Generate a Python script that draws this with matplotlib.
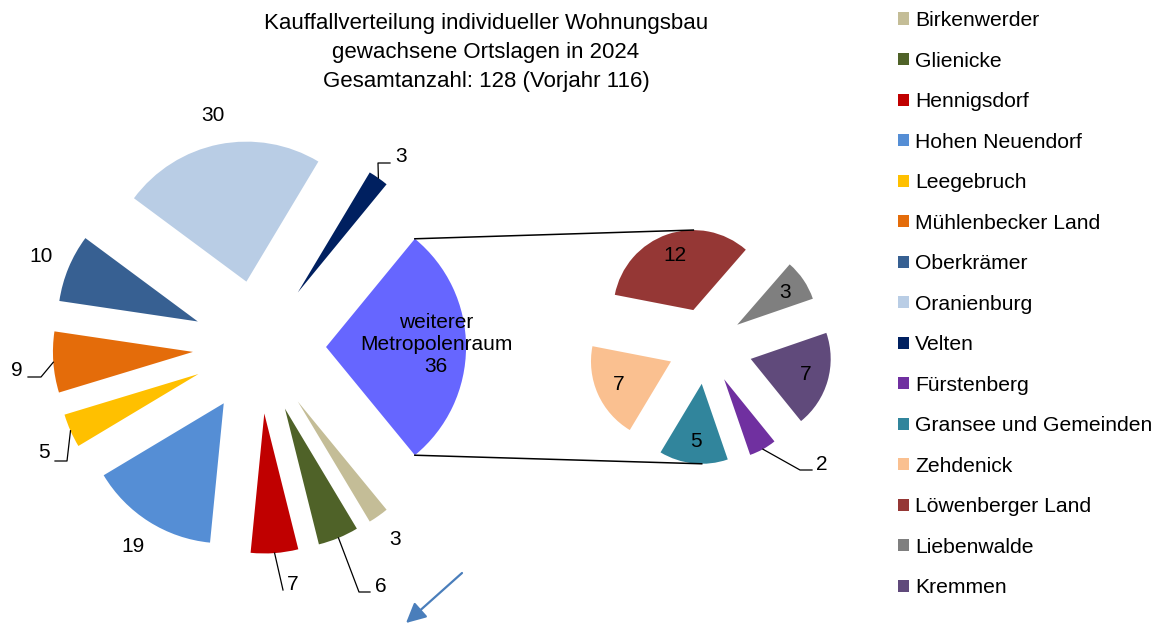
import numpy as np
import matplotlib
matplotlib.use("Agg")
import matplotlib.pyplot as plt

W, H = 1168, 625

title = ("Kauffallverteilung individueller Wohnungsbau\n"
         "gewachsene Ortslagen in 2024\n"
         "Gesamtanzahl: 128 (Vorjahr 116)")

main_labels = ["Birkenwerder", "Glienicke", "Hennigsdorf", "Hohen Neuendorf",
               "Leegebruch", "Mühlenbecker Land", "Oberkrämer", "Oranienburg",
               "Velten"]
main_values = [3, 6, 7, 19, 5, 9, 10, 30, 3]
main_colors = ["#c4bd97", "#4f6228", "#c00000", "#558ed5", "#ffc000",
               "#e46c0a", "#376092", "#b9cde5", "#002060"]

sub_labels = ["Fürstenberg", "Gransee und Gemeinden", "Zehdenick",
              "Löwenberger Land", "Liebenwalde", "Kremmen"]
sub_values = [2, 5, 7, 12, 3, 7]
sub_colors = ["#7030a0", "#31859c", "#fac090", "#953735", "#7f7f7f", "#604a7b"]

rest_label = "weiterer\nMetropolenraum"
rest_color = "#6666ff"
rest_value = sum(sub_values)

# labels that Excel moved out with a leader line: label pos, elbow, line end (pixels from top-left)
moved = {
    "Velten": ((401, 157), (378, 163), (390, 163)),
    "Mühlenbecker Land": ((17, 371), (41, 377), (28, 377)),
    "Leegebruch": ((44, 453), (67, 461), (55, 461)),
    "Hennigsdorf": ((293, 585), (283, 590), (283, 590)),
    "Glienicke": ((381, 586), (359, 592), (370, 592)),
    "Fürstenberg": ((822, 465), (800, 470), (812, 470)),
}

plt.rcParams['font.family'] = ['Liberation Sans', 'DejaVu Sans']
plt.rcParams['font.size'] = 15

fig = plt.figure(figsize=(W / 100, H / 100), dpi=100)
ax = fig.add_axes([0, 0, 1, 1])

r1, r2 = 140, 80
c1 = (259.4, H - 347)
c2 = (705.7, H - 346)
total = rest_value + sum(main_values)

vals1 = [rest_value] + main_values
w1, _ = ax.pie(vals1, colors=[rest_color] + main_colors, radius=r1, center=c1,
               explode=[0.476 * r1] * len(vals1), startangle=180 * rest_value / total,
               counterclock=False, wedgeprops=dict(linewidth=0))

expl2 = [0.475 * r2] * len(sub_values)
expl2[-1] = 0.585 * r2
w2, _ = ax.pie(sub_values, colors=sub_colors, radius=r2, center=c2,
               explode=expl2, startangle=-51, counterclock=False,
               wedgeprops=dict(linewidth=0))

ax.set_xlim(0, W)
ax.set_ylim(0, H)
ax.axis("off")


def at(w, f):
    a = np.deg2rad((w.theta1 + w.theta2) / 2)
    return w.center[0] + f * w.r * np.cos(a), w.center[1] + f * w.r * np.sin(a)


def covering(wedges, ang):
    for w in wedges:
        if (ang - w.theta1) % 360 <= (w.theta2 - w.theta1):
            return w


def put_label(w, name, val, f):
    if name in moved:
        (lx, ly), (ex, ey), (tx, ty) = moved[name]
        ax.text(lx, H - ly, str(val), ha="center", va="center")
        px, py = at(w, 1.0)
        ax.plot([px, ex, tx], [py, H - ey, H - ty], color="black", lw=0.9)
    else:
        x, y = at(w, f)
        ax.text(x, y, str(val), ha="center", va="center")


for w, name, val in zip(w1[1:], main_labels, main_values):
    put_label(w, name, val, 1.21)
for w, name, val in zip(w2, sub_labels, sub_values):
    put_label(w, name, val, 0.72)

x, y = at(w1[0], 0.786)
ax.text(x, y + 3, f"{rest_label}\n{rest_value}", ha="center", va="center")

# connector lines between the two pies
wr = w1[0]
top1 = (wr.center[0] + wr.r * np.cos(np.deg2rad(wr.theta2)),
        wr.center[1] + wr.r * np.sin(np.deg2rad(wr.theta2)))
bot1 = (wr.center[0] + wr.r * np.cos(np.deg2rad(wr.theta1)),
        wr.center[1] + wr.r * np.sin(np.deg2rad(wr.theta1)))
wt = covering(w2, 90)
wb = covering(w2, 270)
top2 = (wt.center[0], wt.center[1] + wt.r)
bot2 = (wb.center[0], wb.center[1] - wb.r)
ax.plot([top1[0], top2[0]], [top1[1], top2[1]], color="black", lw=1.1)
ax.plot([bot1[0], bot2[0]], [bot1[1], bot2[1]], color="black", lw=1.1)

ax.annotate("", xy=(406, H - 623), xytext=(462, H - 573),
            arrowprops=dict(arrowstyle="-|>", color="#4a7ebb", lw=1.6,
                            mutation_scale=30, shrinkA=0, shrinkB=0))

fig.text(486 / W, 1 - 52.5 / H, title, ha="center", va="center",
         fontsize=16, linespacing=1.48)

ax.legend(list(w1[1:]) + list(w2), main_labels + sub_labels,
          loc="upper left", bbox_to_anchor=(898, H - 11), bbox_transform=ax.transData,
          frameon=False, fontsize=15.2, handlelength=0.5, handleheight=0.5,
          handletextpad=0.3, labelspacing=1.02, borderpad=0, borderaxespad=0)

fig.savefig("out.png", dpi=100)
